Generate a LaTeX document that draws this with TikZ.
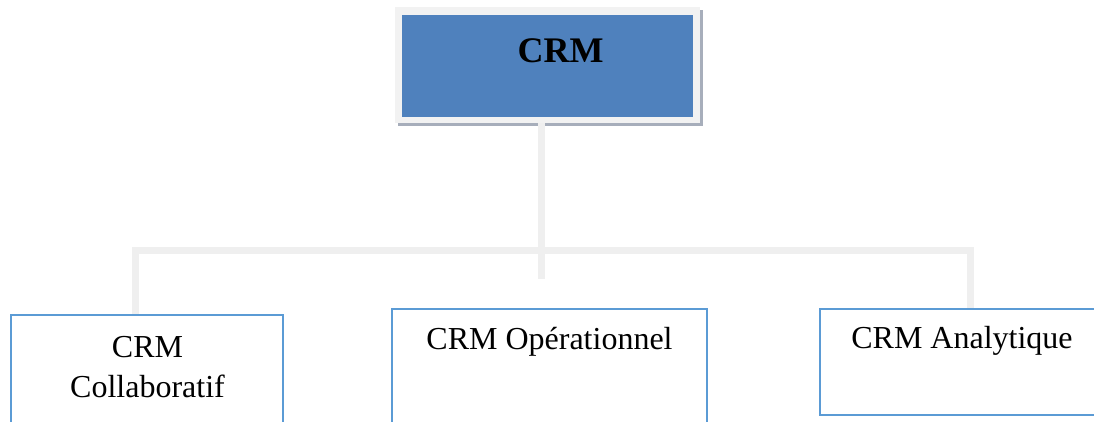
\documentclass[tikz,border=0pt]{standalone}
\usepackage{fontspec}
\setmainfont{Liberation Serif}
\definecolor{crmblue}{HTML}{4F81BD}
\definecolor{framegray}{HTML}{F2F2F2}
\definecolor{shadowgray}{HTML}{A7AEBB}
\definecolor{linegray}{HTML}{EFEFEF}
\definecolor{boxblue}{HTML}{5B9BD5}
\begin{document}
\begin{tikzpicture}[x=1pt,y=-1pt,
  trunk/.style={draw=linegray,line width=7pt,line join=miter},
  leafbox/.style={draw=boxblue,line width=1.5pt,fill=white,inner sep=0pt},
  leaftext/.style={anchor=base,inner sep=0pt,font=\fontsize{32}{38}\selectfont},
  roottext/.style={anchor=base,inner sep=0pt,font=\bfseries\fontsize{36}{42}\selectfont}]
\useasboundingbox (0,0) rectangle (1094,421);
\clip (0,0) rectangle (1094,421);

% root box: shadow, light frame, blue face
\node[fill=shadowgray,inner sep=0pt,minimum width=305pt,minimum height=116pt] (rootshadow) at (550.5,68) {};
\node[fill=framegray,inner sep=0pt,minimum width=305pt,minimum height=116pt] (root) at (547.5,65) {};
\node[fill=crmblue,inner sep=0pt,minimum width=291pt,minimum height=102pt] (rootface) at (547.5,66) {};
\node[roottext] (roottitle) at (560.5,62) {CRM};

% leaf boxes
\node[leafbox,minimum width=272pt,minimum height=125pt] (collab) at (147,377.5) {};
\node[leafbox,minimum width=315pt,minimum height=131pt] (oper) at (549.5,374.5) {};
\node[leafbox,minimum width=290pt,minimum height=106pt] (analy) at (965,362) {};

% tree connectors
\coordinate (stem) at (541,123);
\coordinate (stemend) at (541,279);
\coordinate (bar) at (541,250);
\draw[trunk] (stem) -- (stemend);
\draw[trunk] ([xshift=-11.5pt]collab.north) |- (bar) -| ([xshift=5pt]analy.north);

% redraw leaf borders over the connector ends
\draw[boxblue,line width=1.5pt] (collab.north west) -- (collab.north east);
\draw[boxblue,line width=1.5pt] (analy.north west) -- (analy.north east);

% labels
\node[leaftext] (collabA) at (147.5,357) {CRM};
\node[leaftext] (collabB) at (147.5,397) {Collaboratif};
\node[leaftext] (opertext) at (549.5,349) {CRM Opérationnel};
\node[leaftext] (analytext) at (962,348) {CRM Analytique};
\end{tikzpicture}
\end{document}
